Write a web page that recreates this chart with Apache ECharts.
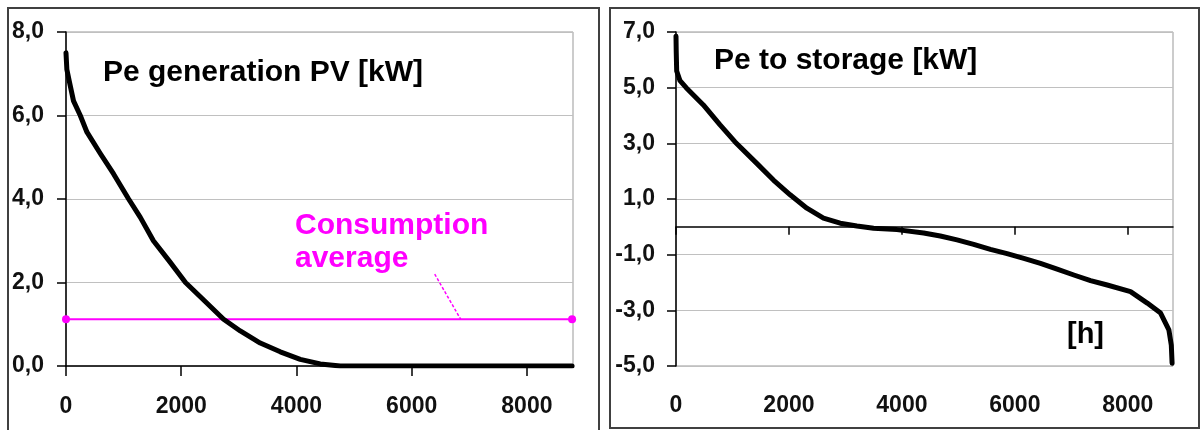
<!DOCTYPE html>
<html>
<head>
<meta charset="utf-8">
<script src="https://cdn.jsdelivr.net/npm/echarts@6/dist/echarts.min.js"></script>
<style>
html,body{margin:0;padding:0;background:#fff;}
#chart{width:1200px;height:430px;}
</style>
</head>
<body>
<div id="chart"></div>
<script>
// ---- data ----
const xTickValues = [0, 2000, 4000, 6000, 8000];

const pvHours = [0, 15, 60, 130, 248, 364, 595, 826, 1087, 1290, 1517, 1800, 2074, 2331, 2735, 3025, 3372, 3719, 4066, 4413, 4760, 8784];
const pvPower = [7.5, 7.1, 6.8, 6.35, 6.0, 5.6, 5.09, 4.6, 4.0, 3.56, 3.0, 2.5, 2.0, 1.66, 1.12, 0.84, 0.55, 0.34, 0.16, 0.05, 0.0, 0.0];

const consumptionHours = [0, 8784];
const consumptionAvg = [1.12, 1.12];
const leaderHours = [6400, 6850];
const leaderValues = [2.2, 1.12];

const storageHours = [0, 4, 12, 71, 180, 484, 780, 1046, 1430, 1725, 2021, 2317, 2611, 2907, 3203, 3498, 3912, 4385, 4680, 4976, 5271, 5567, 5862, 6158, 6453, 6749, 7044, 7340, 7635, 8048, 8344, 8580, 8727, 8770, 8784];
const storagePower = [6.85, 6.3, 5.6, 5.25, 5.0, 4.38, 3.66, 3.05, 2.28, 1.68, 1.15, 0.67, 0.31, 0.13, 0.03, -0.05, -0.1, -0.22, -0.33, -0.47, -0.63, -0.81, -0.96, -1.13, -1.31, -1.52, -1.73, -1.93, -2.09, -2.33, -2.74, -3.1, -3.7, -4.25, -4.9];

const leftTitle = 'Pe generation PV [kW]';
const rightTitle = 'Pe to storage [kW]';
const annotationText = 'Consumption\naverage';
const xUnitText = '[h]';

// ---- chart ----
const FONT = '"Liberation Sans", Arial, sans-serif';
const zip = (a, b) => a.map((v, i) => [v, b[i]]);
const fmtY = v => v.toFixed(1).replace('.', ',');
const fmtX = v => String(Math.round(v));

const labelStyle = {fontFamily: FONT, fontWeight: 'bold', fontSize: 23, color: '#111'};
const gridLine = {show: true, lineStyle: {color: '#c0c0c0', width: 1}};
const blackLine = {color: '#000', width: 1.5};

const chart = echarts.init(document.getElementById('chart'), null, {renderer: 'canvas'});
chart.setOption({
  animation: false,
  backgroundColor: '#fff',
  grid: [
    {left: 66, top: 32, width: 507, height: 334, show: true, borderColor: '#999', borderWidth: 1, backgroundColor: '#fff'},
    {left: 676, top: 32, width: 497, height: 334, show: true, borderColor: '#999', borderWidth: 1, backgroundColor: '#fff'}
  ],
  xAxis: [
    {
      gridIndex: 0, type: 'value', min: 0, max: 8800,
      axisLine: {show: true, onZero: false, lineStyle: blackLine},
      axisTick: {show: true, length: 10, customValues: xTickValues, lineStyle: blackLine},
      axisLabel: Object.assign({customValues: xTickValues, margin: 29, formatter: fmtX}, labelStyle),
      splitLine: {show: false}
    },
    {
      gridIndex: 1, type: 'value', min: 0, max: 8800,
      axisLine: {show: true, onZero: true, lineStyle: blackLine},
      axisTick: {show: true, length: 8, customValues: xTickValues, lineStyle: blackLine},
      axisLabel: {show: false},
      splitLine: {show: false}
    },
    {
      gridIndex: 1, type: 'value', min: 0, max: 8800, position: 'bottom',
      axisLine: {show: false, onZero: false},
      axisTick: {show: false},
      axisLabel: Object.assign({customValues: xTickValues, margin: 28, formatter: fmtX}, labelStyle),
      splitLine: {show: false}
    }
  ],
  yAxis: [
    {
      gridIndex: 0, type: 'value', min: 0, max: 8, interval: 2,
      axisLine: {show: true, onZero: false, lineStyle: blackLine},
      axisTick: {show: true, length: 9, lineStyle: blackLine},
      axisLabel: Object.assign({formatter: fmtY, margin: 22}, labelStyle),
      splitLine: gridLine
    },
    {
      gridIndex: 1, type: 'value', min: -5, max: 7, interval: 2,
      axisLine: {show: true, onZero: false, lineStyle: blackLine},
      axisTick: {show: true, length: 9, lineStyle: blackLine},
      axisLabel: Object.assign({formatter: fmtY, margin: 21}, labelStyle),
      splitLine: gridLine
    }
  ],
  series: [
    {
      type: 'line', xAxisIndex: 0, yAxisIndex: 0, z: 3,
      data: zip(consumptionHours, consumptionAvg),
      symbol: 'circle', symbolSize: 8, showSymbol: true,
      itemStyle: {color: '#ff00ff'},
      lineStyle: {color: '#ff00ff', width: 2},
      markLine: {
        silent: true, symbol: ['none', 'none'], label: {show: false},
        lineStyle: {color: '#ff00ff', width: 1.5, type: [3, 2]},
        data: [[{coord: [leaderHours[0], leaderValues[0]]}, {coord: [leaderHours[1], leaderValues[1]]}]]
      }
    },
    {
      type: 'line', xAxisIndex: 0, yAxisIndex: 0, z: 5,
      data: zip(pvHours, pvPower),
      showSymbol: false, smooth: false,
      lineStyle: {color: '#000', width: 5, join: 'round', cap: 'round'}
    },
    {
      type: 'line', xAxisIndex: 1, yAxisIndex: 1, z: 5,
      data: zip(storageHours, storagePower),
      showSymbol: false, smooth: false,
      lineStyle: {color: '#000', width: 5, join: 'round', cap: 'round'}
    }
  ],
  graphic: [
    {type: 'rect', silent: true, shape: {x: 8, y: 8, width: 591, height: 440}, style: {fill: 'none', stroke: '#404040', lineWidth: 2}},
    {type: 'rect', silent: true, shape: {x: 610, y: 8, width: 589, height: 420}, style: {fill: 'none', stroke: '#404040', lineWidth: 2}},
    {type: 'text', left: 103, top: 58, z: 10, style: {text: leftTitle, font: 'bold 30px ' + FONT, fill: '#000'}},
    {type: 'text', left: 714, top: 46, z: 10, style: {text: rightTitle, font: 'bold 30px ' + FONT, fill: '#000'}},
    {type: 'text', left: 295, top: 209, z: 10, style: {text: annotationText, font: 'bold 30px ' + FONT, fill: '#ff00ff', lineHeight: 33}},
    {type: 'text', left: 1067, top: 320, z: 10, style: {text: xUnitText, font: 'bold 29px ' + FONT, fill: '#000'}}
  ]
});
</script>
</body>
</html>
